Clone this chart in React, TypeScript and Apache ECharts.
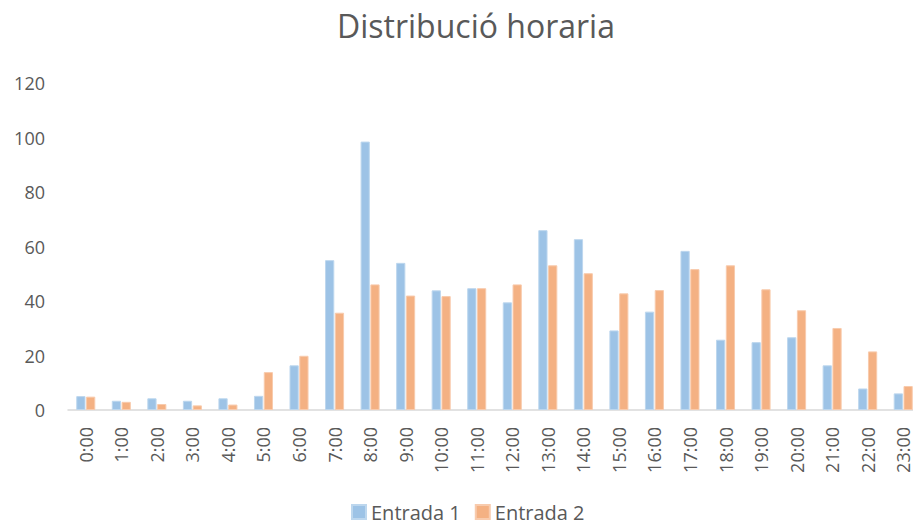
import React, { useEffect, useRef } from "react";
import * as echarts from "echarts";

const categories = ["0:00","1:00","2:00","3:00","4:00","5:00","6:00","7:00","8:00","9:00","10:00","11:00","12:00","13:00","14:00","15:00","16:00","17:00","18:00","19:00","20:00","21:00","22:00","23:00"];
const entrada1 = [5.1, 3.4, 4.3, 3.4, 4.3, 5.2, 16.4, 55, 98.5, 54, 43.9, 44.7, 39.5, 66, 62.7, 29.2, 36.1, 58.4, 25.8, 24.9, 26.7, 16.4, 7.9, 6.1];
const entrada2 = [4.9, 3.0, 2.2, 1.7, 2.0, 13.9, 19.9, 35.7, 46.1, 42, 41.8, 44.7, 46.1, 53.1, 50.2, 42.8, 44.0, 51.7, 53.1, 44.3, 36.6, 30.1, 21.5, 8.8];
const yTicks = { min: 0, max: 120, interval: 20 };
const seriesNames = ["Entrada 1", "Entrada 2"];

const FONT = "'Open Sans', 'Noto Sans', sans-serif";
const TEXT = "#595959";

export default function App() {
  const ref = useRef<HTMLDivElement>(null);
  useEffect(() => {
    if (!ref.current) return;
    const chart = echarts.init(ref.current, null, { renderer: "svg" });
    chart.setOption({
      animation: false,
      backgroundColor: "#ffffff",
      title: {
        text: "Distribució horaria",
        left: 332,
        top: 4,
        textStyle: { fontFamily: FONT, fontSize: 32, fontWeight: "normal", color: TEXT },
      },
      legend: {
        bottom: 2,
        left: 346,
        itemWidth: 14,
        itemHeight: 14,
        itemGap: 14,
        icon: "rect",
        textStyle: { fontFamily: FONT, fontSize: 20, color: TEXT },
        data: seriesNames,
      },
      grid: { left: 68, top: 83, width: 853, height: 327, containLabel: false },
      xAxis: {
        type: "category",
        data: categories,
        axisLine: { show: true, lineStyle: { color: "#D9D9D9", width: 1.5 } },
        axisTick: { show: false },
        axisLabel: {
          rotate: 90,
          interval: 0,
          margin: 17,
          fontFamily: FONT,
          fontSize: 18,
          color: TEXT,
        },
      },
      yAxis: {
        type: "value",
        min: yTicks.min,
        max: yTicks.max,
        interval: yTicks.interval,
        axisLine: { show: false },
        axisTick: { show: false },
        splitLine: { show: false },
        axisLabel: { margin: 23, fontFamily: FONT, fontSize: 18, color: TEXT },
      },
      series: [
        {
          name: seriesNames[0],
          type: "bar",
          data: entrada1,
          barWidth: "26%",
          barGap: "6%",
          itemStyle: { color: "#9DC3E6", borderColor: "#BDD7EE", borderWidth: 1 },
        },
        {
          name: seriesNames[1],
          type: "bar",
          data: entrada2,
          barWidth: "26%",
          barGap: "6%",
          itemStyle: { color: "#F4B183", borderColor: "#F8CBAD", borderWidth: 1 },
        },
      ],
    });
    return () => chart.dispose();
  }, []);
  return (
    <div style={{ position: "absolute", left: 0, top: 0, width: 913, height: 529, overflow: "hidden" }}>
      <div ref={ref} style={{ width: 925, height: 529 }} />
    </div>
  );
}
